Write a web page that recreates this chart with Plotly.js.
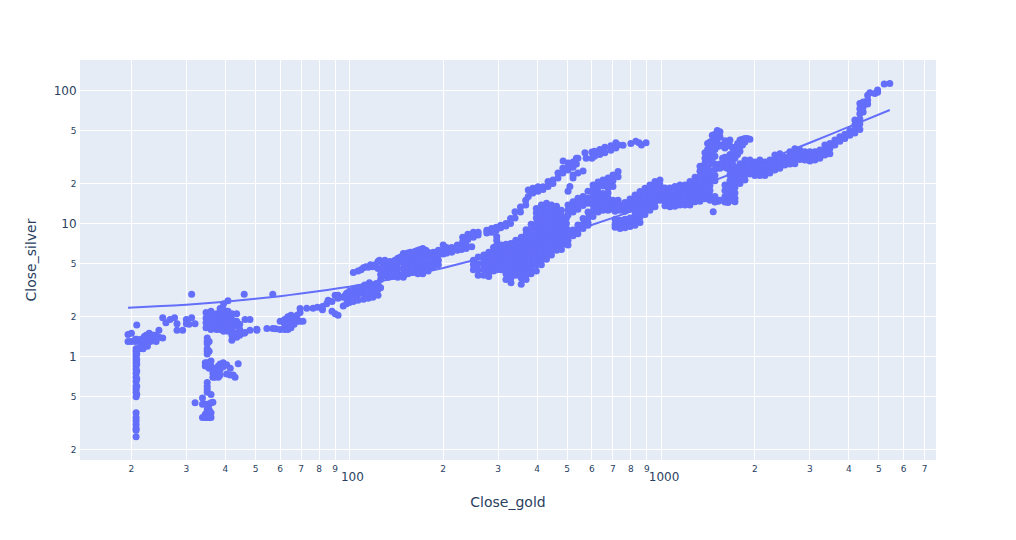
<!DOCTYPE html>
<html><head><meta charset="utf-8">
<script src="https://cdn.plot.ly/plotly-3.0.1.min.js"></script>
<style>html,body{margin:0;padding:0;background:#fff}</style></head>
<body><div id="chart" style="width:1016px;height:540px"></div>
<script>
// Close_gold (one value per column) with the Close_silver values read in that column
const goldEarly=[19.5,20,20.6,20.7,20.8,21.2,21.5,22,22.3,22.8,23,23.5,24,24.5,25.2,25.8,26.6,27.5,28,29.2,30,30.6,31.2,32];
const silverEarly=[[1.3,1.47],[1.3,1.5],[1.3,1.35],[1.15,1.1,1.05,1,.95,.9,.85,.8,.75,.7,.65,.6,.57,.54,.5,.38,.35,.33,.31,.29,.28,.25],[1.15,1.05,.95,.88,.78,.68,.6,.52,1.35,1.73],[1.15,1.3],[1.25,1.35],[1.2,1.3,1.42],[1.3,1.45],[1.5,1.4],[1.45,1.3],[1.35,1.45],[1.3,1.45],[1.4,1.58],[1.38,1.96],[1.8],[1.9],[1.96],[1.77,1.58],[1.58],[1.9,1.77],[1.75],[1.96,2.95],[1.77,.45]];
const goldSpike=[33.8,34.5,35,35.5,36,36.5,37,38,38.5,39.4,40.4,41.5,42.4,43,44];
const silverSpike=[[.49,.44,.35],[.44,.37,.35,.9,.85],[1.38,1.3,1.25,1.15,1.1,1.05,.9,.85,.64,.6,.57,.54,.44,.4,.37,.35],[1.3,1.1,.9,.82,.44,.4,.35],[.52,.93,.85,.45,.38,.35],[.82,.75,.7,.455],[.8,.72,.7],[.85,.78,.7],[.88,.8,.73],[.9,.84],[.87,.74],[.82,.73],[.73],[.7],[.885]];
const goldCluster=[34.7,36,37.5,38.5,39.5,40.8,42,43.5,44.5,46,46.3,48,50.5,54.4,56.8,58,60,62,63.5,65,66.5,68,69.5,71];
const silverCluster=[[2.15,1.95,1.8,1.65],[2.2,2,1.85,1.7,1.6],[2.1,1.9,1.75,1.6],[2.3,2.1,1.9,1.75,1.6],[2.5,2.25,2.05,1.85,1.7,1.55],[2.63,2.2,2,1.8,1.65,1.55],[2.1,1.9,1.75,1.6,1.45,1.33],[2.1,1.85,1.7,1.5,1.4],[1.75,1.6,1.45],[2.95,1.5],[1.9,1.52],[1.9,1.58],[1.61,1.58],[1.63],[2.95,1.63],[1.62],[1.6,1.85],[1.6,1.75,1.9],[1.6,1.8,2],[1.65,1.85,2.05],[1.75,1.95],[1.85,2.05],[1.85,2.15,2.3],[1.85]];
const goldLink=[73,76.5,79,82,84.6,85.5,88,90,92,95.6,98,100,103,106.6,111,115,119,123.6];
const silverLink=[[2.31],[2.31],[2.35],[2.25,2.38],[2.5],[2.65],[2.2],[2.1,2.9],[2.05,2.9],[2.4,2.8],[2.5,2.75,3],[2.55,2.8,3.1],[2.6,2.9,3.2,4.3],[2.65,2.95,3.3,4.4],[2.7,3,3.3,4.65],[2.75,3.05,3.4,4.7],[2.8,3.1,3.4,4.75],[2.9,3.2,3.5,4.6,5.2]];
const goldBand=[128,133,138,143,149,154,160,166,172,179,186,193,200,205,213,222,229,231,237,240,247,250,259,276,286,296,306,318,329,340,354,368,375,388,403,418,434,450,467,484,485,503,510,522,535,541,562,570,575,600,612,636,660,690,716,730,755,800,830,850,865,895];
const silverBand=[[5.2,4.8,4.4,4.05],[5,4.6,4.2,3.95],[5.1,4.7,4.3,4],[5.5,5.05,4.6,4.2,3.95],[5.95,5.5,5.05,4.6,4.2,3.95],[6,5.5,5.05,4.6,4.2],[6.1,5.6,5.1,4.7,4.3],[6.3,5.8,5.3,4.9,4.5,4.2],[6.5,6,5.5,5,4.6,4.2],[6.1,5.6,5.1,4.7,4.4],[6.1,5.6,5.1,4.7],[6.3,5.8,5.3,4.9],[6.9,6.3,5.9],[6.6,6],[6.6,6.1],[6.9,6.3],[6.9,6.4],[7.9,7.3],[6.9,6.5],[8.3,7.6],[6.7],[8.6,7.9],[8.6,8.2],[8.9,8.5],[9.2,8.6],[9.4,8.9],[9.7,9.3],[10,9.6],[10.9,10],[12.3,11],[13.3,12.2],[15,13.8],[17.9,16],[18.4,17],[18.9,17.5],[18.9,18],[20.7,19],[21.3,20],[24,22],[26,24],[29.5],[28.5,26.5,25.3,17.5],[19],[29,26.5,22,23.2],[31,28],[31,24],[24.8],[34],[31],[34.5,31],[35,32],[36,33],[37.5,34],[38.5,35.5],[40.5,37],[39],[38.8],[40],[41.5],[40.5],[39],[40.5]];
const goldBlob=[250,259,270,280,290,297,307,318,330,342,356,369,383,398,413,429,445,462,479,497,503,522,541,562,583,605,628,651,676,701,728];
const silverBlob=[[5.3,4.9,4.5],[5.6,5,4.5,4.1],[5.8,5.3,4.9,4.5,4.1],[6.1,5.6,5.1,4.7,4.3,4],[6.6,6.1,5.6,5.1,4.7,4.4],[8,7.5,6.9,6.3,5.8,5.3,4.9,4.5],[6.9,6.3,5.8,5.3,4.9,4.5],[7,6.4,5.9,5.4,5,4.6,4.2,3.8],[7.1,6.5,6,5.5,5,4.6,4.2,3.9,3.6],[7.5,6.9,6.3,5.8,5.3,4.9,4.5,4.1],[7.9,7.3,6.7,6.1,5.6,5.1,4.7,4.3,3.9,3.5],[9,8.3,7.6,7,6.4,5.9,5.4,4.9,4.5,4.1,3.8],[9.9,9.1,8.3,7.6,7,6.4,5.9,5.4,4.9,4.5,4.2],[13,12,11,10,9.2,8.4,7.7,7,6.4,5.9,5.4,4.9,4.4],[13.8,12.6,11.6,10.6,9.7,8.9,8.1,7.5,6.9,6.3,5.8,5.3,4.9],[14.2,13,11.9,10.9,10,9.1,8.3,7.6,7,6.4,5.9,5.4],[13.8,12.6,11.6,10.6,9.7,8.9,8.1,7.5,6.9,6.3,5.8],[13.5,12.6,11.6,10.6,9.7,8.9,8.1,7.5,6.9,6.3],[12.6,11.6,10.6,9.7,8.9,8.1,7.5,6.9,6.4],[11,10,9.1,8.3,7.6,7],[13.8,12.6,11.6,8.95,8.2,7.5,6.9],[14.6,13.3,12.2,8.95,8.1],[15.5,14,12.8,9.75,9,8.4],[16,14.6,13.7,10.9,9.9,9.2],[17.5,15.5,14.2,12.2,11,10.2,9.7],[19.5,18,16.4,15,13.8,12.5,11.3],[20.5,18.8,17.2,15.7,14.5,13.3,12.2],[21.3,19.2,16.8,15.3,15,13.6,12.6],[22,20.2,18.5,17,15.6,15,13.6,12.6],[23.2,21,19,15,13.8,12.8],[24.6,22.5,15,13.8]];
const goldMass=[712,739,766,795,825,856,888,921,956,992,1029,1068,1108,1150,1193,1238,1285,1333,1383,1435,1470,1489,1526,1545,1603,1640,1663,1700,1726,1791,1858,1928,2000,2075,2153,2234,2318,2405,2496,2590,2687,2788,2893,3002,3115,3232,3353,3480,3610,3746,3887,4033,4185,4342,4450,4600,4675,4850,4950,5200,5418];
const silverMass=[[14.7,13.5,12.4,10.8,9.9,9.4],[13.8,12.6,10.6,9.8,9.2],[14.4,13.2,12.4,10.8,9.9,9.3],[15.3,14,12.8,11,10,9.5],[16.4,15,13.8,12.6,11.6,10.6,9.7],[17.4,15.9,14.6,13.4,12.2,11.2,10.2],[18.4,16.8,15.4,14,12.8,11.7],[19.5,17.8,16.3,14.9,13.6,12.6],[20.7,19,17.4,15.9,14.5,13.4],[21.3,19.5,17.9,16.4,15],[18.5,17,15.5,14.5,13.6],[18.5,17,15.5,14.3,13.4],[19,17.4,15.9,14.6,13.5],[19.5,17.9,16.4,15,13.8],[19.5,17.9,16.4,15,13.8],[20.7,19,17.4,15.9,14.6,13.8],[22.3,20.5,18.8,17.2,15.8,14.6],[27,24.7,22.6,20.7,19,17.4,16,14.7],[34,31,28.4,26,24,22,20,18.3,16.8,15.4],[41,37,34,31,28.2,25,23,21,19.3,17.7,16.2,15],[12.3],[47,43,39.5,36,32,28,25.5,23,21,16,14.5],[14.7],[49,45,38.9,28,26,15],[42,37,31.5,29,26.5,19.5,17.7,16,14.5],[14.4],[42.5,38.5,33,30,27.6,25.3,23.2,21,19.5,17.9,16.4,15],[15],[37.5,34,31,26.5,24.4,22.5,20.5,18.7,17,15.5,14.6],[42.5,38,35,28.2,26,24,22,20],[43.6,41,30,27.6,25.3,23.2,21.3],[43,30,27.6,25.3,23.6],[29,26.5,24.4,23],[30,27.6,25.3,23],[29,27,25,23],[30,27.5,25,24],[32.8,30,27.6,25.3],[33.5,30.8,28.3,26],[31.5,29,27.6],[34.7,31.8,29,28],[36.5,33.5,30.7,28.2],[35.7,33,30.3],[34.7,32,30],[34.7,32,29.5],[34.7,32,30],[35.7,33,31],[38.9,35.7,32.8],[40,36.7,33.5],[42.5,39],[45,41.5],[47,43.6],[50,46],[60,55,50.5,48],[80,73,67,61,56,51],[82,75,69],[92,85,79],[96],[95],[101,97],[112],[113]];
const goldFill=[21.8,22.5,23.5,88,92,97,102,105,108,109,112,113,116,117,118,121,122,125,126,130,135,140,146,150,157,163,169,176,182,1410,1460,1515,1520,1560,1575,1600,1630,1695,1760,1825,1890];
const silverFill=[[1.15,1.35],[1.2],[1.45],[2.6],[2.75],[2.9],[2.8],[3],[3.15],[4.5],[3.45],[4.75],[3.6],[4.9],[3.2],[4.9],[3.55],[5.3],[3.8,3.3,4.15],[5.3,4.1],[5.2],[5.3],[5.6],[5.9],[6.1],[6.2],[6.4],[6.3],[5.9],[40,36,33,30,27],[46,42,38,34.5,31],[50,47,43],[38],[38.5],[31,28],[39],[40,31,28,26],[37,33,30,28],[40,36,33],[43,39],[43.5,28,25]];
const goldTrend=[19.5,25,30,40,50,60,70,85,100,120,150,200,300,400,500,700,1000,1500,2000,3000,4000,5418];
const silverTrend=[2.33,2.4,2.46,2.59,2.72,2.85,2.98,3.17,3.36,3.62,4,4.64,5.92,7.2,8.48,11.04,14.9,21.3,27.7,40.5,53.3,71.4];
const xTitle="Close_gold", yTitle="Close_silver";

const goldCols=[goldEarly,goldSpike,goldCluster,goldLink,goldBand,goldBlob,goldMass,goldFill];
const silverCols=[silverEarly,silverSpike,silverCluster,silverLink,silverBand,silverBlob,silverMass,silverFill];
const xs=[],ys=[];
goldCols.forEach((g,k)=>g.forEach((v,i)=>silverCols[k][i].forEach(s=>{xs.push(v);ys.push(s);})));

const font="'DejaVu Sans', Verdana, sans-serif";
const axisBase={type:'log',gridcolor:'white',linecolor:'white',zerolinecolor:'white',zerolinewidth:2,ticks:'',automargin:true};
Plotly.newPlot('chart',[
 {type:'scatter',mode:'markers',x:xs,y:ys,marker:{color:'#636efa',size:7,symbol:'circle'},showlegend:false},
 {type:'scatter',mode:'lines',x:goldTrend,y:silverTrend,line:{color:'#636efa',width:2,shape:'spline',smoothing:0.3},showlegend:false}
],{
 width:1016,height:540,
 margin:{l:80,r:80,t:60,b:80},
 paper_bgcolor:'white',plot_bgcolor:'#E5ECF6',
 font:{family:font,size:12,color:'#2a3f5f'},
 hovermode:'closest',
 xaxis:Object.assign({},axisBase,{range:[1.136,3.882],title:{text:xTitle,standoff:13}}),
 yaxis:Object.assign({},axisBase,{range:[-0.776,2.229],title:{text:yTitle,standoff:13}})
},{displayModeBar:false});
</script></body></html>
